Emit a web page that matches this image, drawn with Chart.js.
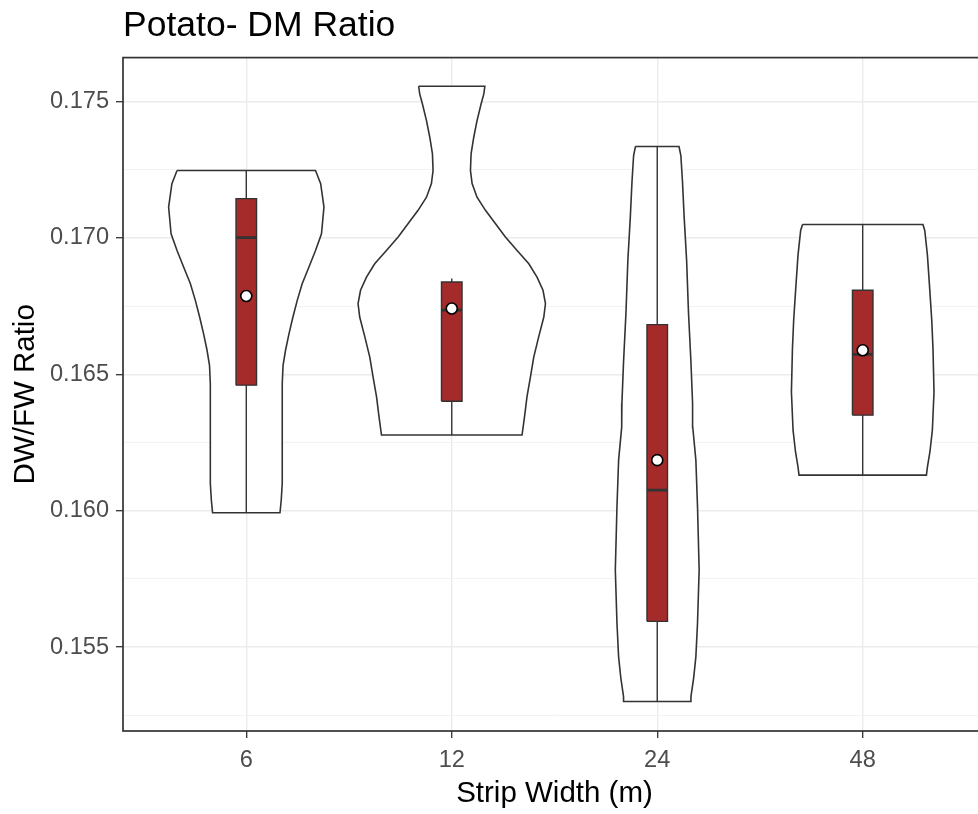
<!DOCTYPE html>
<html><head><meta charset="utf-8">
<script src="https://cdn.jsdelivr.net/npm/chart.js@4.4.1/dist/chart.umd.min.js"></script>
<style>
html,body{margin:0;padding:0;background:#fff;overflow:hidden;width:978px;height:814px}
#wrap{position:absolute;left:0;top:0;width:1000px;height:814px}
</style>
</head><body><div id="wrap"><canvas id="c"></canvas></div>
<script>
// ---- data ----
const categories = ['6', '12', '24', '48'];

// violin outline profiles: y values (top -> bottom) and half-widths (category units)
const violin6Y  = [0.17247, 0.17199, 0.17113, 0.17015, 0.16954, 0.16893, 0.16832, 0.16771, 0.16710, 0.16649, 0.16588, 0.16533, 0.16466, 0.16100, 0.16038, 0.15992];
const violin6W  = [0.337, 0.362, 0.378, 0.366, 0.337, 0.305, 0.272, 0.248, 0.227, 0.208, 0.191, 0.179, 0.175, 0.175, 0.170, 0.164];
const violin12Y = [0.17556, 0.17528, 0.17492, 0.17430, 0.17369, 0.17308, 0.17247, 0.17199, 0.17149, 0.17101, 0.17052, 0.17003, 0.16954, 0.16905, 0.16856, 0.16808, 0.16759, 0.16710, 0.16637, 0.16563, 0.16490, 0.16417, 0.16344, 0.16277];
const violin12W = [0.161, 0.156, 0.143, 0.123, 0.107, 0.094, 0.091, 0.099, 0.123, 0.164, 0.213, 0.261, 0.318, 0.375, 0.415, 0.444, 0.456, 0.448, 0.423, 0.399, 0.383, 0.366, 0.354, 0.342];
const violin24Y = [0.17335, 0.17302, 0.17204, 0.17076, 0.16918, 0.16728, 0.16545, 0.16393, 0.16305, 0.16185, 0.16014, 0.15782, 0.15587, 0.15464, 0.15385, 0.15318, 0.15300];
const violin24W = [0.106, 0.115, 0.123, 0.131, 0.143, 0.152, 0.164, 0.172, 0.173, 0.188, 0.196, 0.204, 0.196, 0.188, 0.177, 0.164, 0.164];
const violin48Y = [0.17049, 0.17027, 0.16936, 0.16814, 0.16698, 0.16594, 0.16435, 0.16295, 0.16215, 0.16160, 0.16130];
const violin48W = [0.293, 0.302, 0.315, 0.326, 0.336, 0.342, 0.347, 0.339, 0.327, 0.315, 0.310];

// box plot statistics
const whiskerLow  = [0.15992, 0.16277, 0.15300, 0.16130];
const q1          = [0.16460, 0.16401, 0.15594, 0.16350];
const medians     = [0.17001, 0.16735, 0.16075, 0.16573];
const q3          = [0.17144, 0.16838, 0.16682, 0.16808];
const whiskerHigh = [0.17247, 0.16851, 0.17335, 0.17049];
const means       = [0.16787, 0.16741, 0.16185, 0.16588];

// axis ticks
const yTickValues = [0.155, 0.160, 0.165, 0.170, 0.175];
const yTickLabels = ['0.155', '0.160', '0.165', '0.170', '0.175'];
const yMinorValues = [0.1525, 0.1575, 0.1625, 0.1675, 0.1725];

// ---- chart ----
const violinY = [violin6Y, violin12Y, violin24Y, violin48Y];
const violinW = [violin6W, violin12W, violin24W, violin48W];
const BOX_HALF = 0.05;
const DARK = '#333333';

const datasets = [];
categories.forEach((cat, i) => {
  const c = i + 1;
  const vy = violinY[i], vw = violinW[i];
  const pts = [];
  for (let k = 0; k < vy.length; k++) pts.push({x: c - vw[k], y: vy[k]});
  for (let k = vy.length - 1; k >= 0; k--) pts.push({x: c + vw[k], y: vy[k]});
  pts.push({x: pts[0].x, y: pts[0].y});
  datasets.push({type: 'line', data: pts, borderColor: DARK, borderWidth: 1.6,
    backgroundColor: '#ffffff', fill: 'shape', pointRadius: 0, tension: 0, order: 4});
  datasets.push({type: 'line', data: [{x: c, y: whiskerLow[i]}, {x: c, y: whiskerHigh[i]}],
    borderColor: DARK, borderWidth: 1.4, pointRadius: 0, fill: false, order: 3});
  datasets.push({type: 'line', data: [
      {x: c - BOX_HALF, y: q1[i]}, {x: c + BOX_HALF, y: q1[i]},
      {x: c + BOX_HALF, y: q3[i]}, {x: c - BOX_HALF, y: q3[i]},
      {x: c - BOX_HALF, y: q1[i]}],
    borderColor: DARK, borderWidth: 1.4, backgroundColor: '#A52A2A', fill: 'shape',
    pointRadius: 0, tension: 0, order: 2});
  datasets.push({type: 'line', data: [{x: c - BOX_HALF, y: medians[i]}, {x: c + BOX_HALF, y: medians[i]}],
    borderColor: DARK, borderWidth: 2.8, pointRadius: 0, fill: false, order: 1});
});
datasets.push({type: 'scatter', data: means.map((m, i) => ({x: i + 1, y: m})),
  pointStyle: 'circle', pointRadius: 5.5, backgroundColor: '#ffffff',
  borderColor: '#000000', borderWidth: 1.6, order: 0});

const isMajor = v => yTickValues.some(t => Math.abs(t - v) < 1e-7);

const framePlugin = {
  id: 'frame',
  afterDatasetsDraw(chart) {
    const {ctx, chartArea: a} = chart;
    ctx.save();
    ctx.strokeStyle = DARK;
    ctx.lineWidth = 1.7;
    ctx.strokeRect(a.left, a.top, a.right - a.left, a.bottom - a.top);
    ctx.restore();
  }
};

Chart.defaults.font.family = '"Liberation Sans", Arial, sans-serif';

new Chart(document.getElementById('c'), {
  type: 'line',
  data: {datasets},
  plugins: [framePlugin],
  options: {
    responsive: true,
    maintainAspectRatio: false,
    animation: false,
    events: [],
    layout: {padding: {top: 5, left: 0, right: 14, bottom: 2}},
    plugins: {
      legend: {display: false},
      tooltip: {enabled: false},
      title: {display: true, text: 'Potato- DM Ratio', align: 'start', fullSize: false,
        color: '#000000', font: {size: 35.5, weight: 'normal', lineHeight: 1.2},
        padding: {top: 0, bottom: 10}}
    },
    scales: {
      x: {
        type: 'linear', min: 0.4, max: 4.6,
        afterBuildTicks: s => { s.ticks = categories.map((c, i) => ({value: i + 1})); },
        afterFit: s => { s.height = 81; },
        ticks: {color: '#4D4D4D', font: {size: 23.6, lineHeight: 1.2}, padding: 8,
          callback: (v, i) => categories[i], maxRotation: 0, autoSkip: false},
        grid: {color: '#EBEBEB', lineWidth: 1.4, tickLength: 7, tickColor: DARK, tickWidth: 1.3},
        border: {display: false},
        title: {display: true, text: 'Strip Width (m)', color: '#000000',
          font: {size: 29.5, lineHeight: 1.2}, padding: {top: 0, bottom: 0}}
      },
      y: {
        type: 'linear', min: 0.15192, max: 0.17661,
        afterBuildTicks: s => {
          s.ticks = yTickValues.concat(yMinorValues).sort((a, b) => a - b).map(v => ({value: v}));
        },
        afterFit: s => { s.width = 123; },
        ticks: {color: '#4D4D4D', font: {size: 23.6, lineHeight: 1.2}, padding: 7, autoSkip: false,
          callback: v => {
            const k = yTickValues.findIndex(t => Math.abs(t - v) < 1e-7);
            return k >= 0 ? yTickLabels[k] : '';
          }},
        grid: {
          color: ctx => isMajor(ctx.tick.value) ? '#EBEBEB' : '#F0F0F0',
          lineWidth: ctx => isMajor(ctx.tick.value) ? 1.4 : 0.8,
          tickLength: 7,
          tickColor: ctx => isMajor(ctx.tick.value) ? DARK : 'rgba(0,0,0,0)',
          tickWidth: 1.3
        },
        border: {display: false},
        title: {display: true, text: 'DW/FW Ratio', color: '#000000',
          font: {size: 29.5, lineHeight: 1.2}, padding: {top: 8, bottom: 0}}
      }
    }
  }
});
</script>
</body></html>
